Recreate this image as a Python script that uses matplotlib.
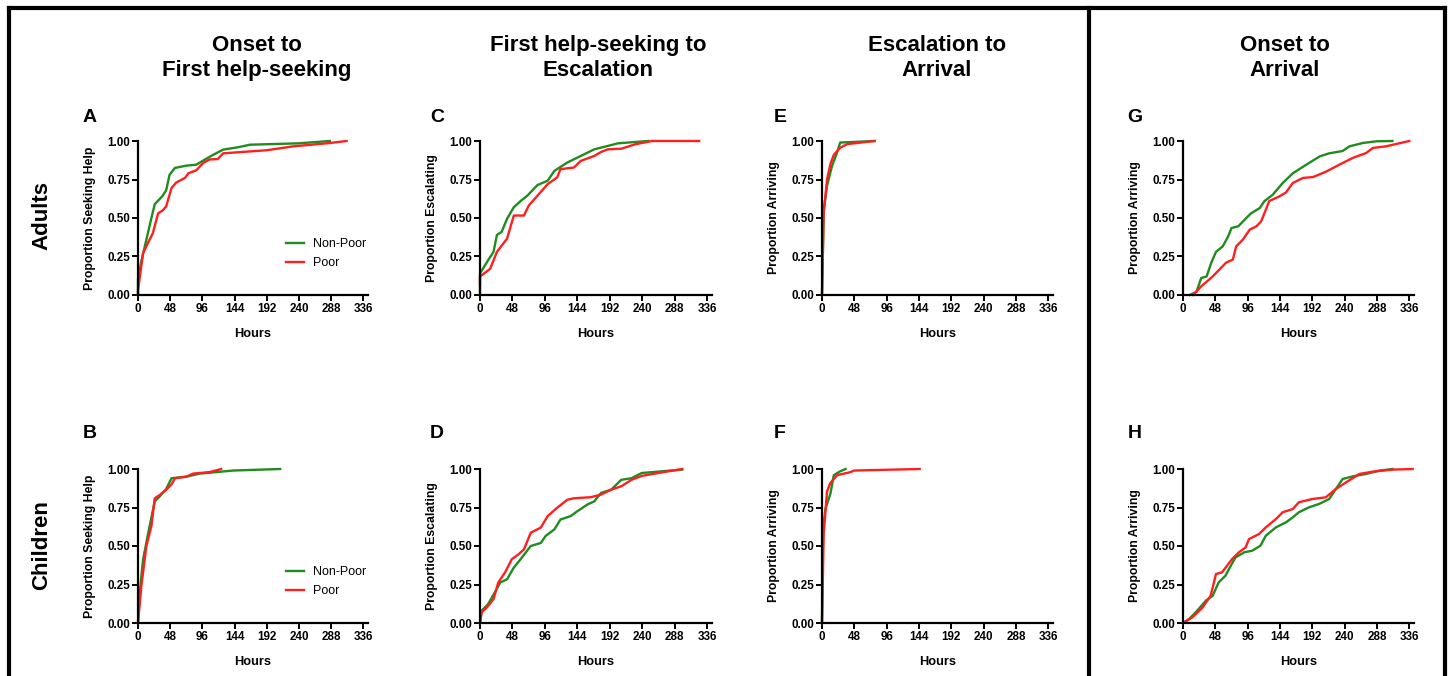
import matplotlib
matplotlib.use('Agg')
import matplotlib.pyplot as plt
from matplotlib.lines import Line2D

plt.rc('font', family='Liberation Sans')

# Data (hours, cumulative proportion)
# A: adults, onset to first help-seeking
a_np_h = [0, 0, 5, 12, 20, 25, 36, 42, 47, 55, 72, 87, 96, 112, 127, 150, 167, 200, 240, 286]
a_np_p = [0, 0.10, 0.22, 0.35, 0.50, 0.59, 0.64, 0.68, 0.78, 0.825, 0.84, 0.846, 0.87, 0.91, 0.944, 0.96, 0.976, 0.98, 0.985, 1.0]
a_p_h = [0, 0, 7.5, 15, 22, 30, 37, 42, 50, 57, 70, 75, 87, 97, 107, 119, 127, 192, 231, 286, 311]
a_p_p = [0, 0.03, 0.27, 0.34, 0.40, 0.53, 0.55, 0.575, 0.695, 0.73, 0.76, 0.79, 0.81, 0.857, 0.88, 0.883, 0.92, 0.94, 0.965, 0.987, 1.0]

# B: children, onset to first help-seeking
b_np_h = [0, 2.5, 7.5, 15, 25, 32, 42, 50, 72, 92, 142, 212]
b_np_p = [0, 0.195, 0.41, 0.58, 0.79, 0.82, 0.87, 0.94, 0.95, 0.97, 0.99, 1.0]
b_p_h = [0, 5, 12.5, 20, 25, 32, 42, 50, 55, 72, 82, 107, 124]
b_p_p = [0, 0.24, 0.50, 0.63, 0.81, 0.83, 0.865, 0.90, 0.94, 0.95, 0.97, 0.98, 1.0]

# C: adults, first help-seeking to escalation
c_np_h = [0, 0, 12, 20, 25, 32, 40, 50, 60, 70, 85, 100, 110, 129, 149, 169, 189, 204, 249]
c_np_p = [0, 0.14, 0.226, 0.28, 0.39, 0.41, 0.495, 0.57, 0.61, 0.645, 0.714, 0.742, 0.806, 0.86, 0.903, 0.946, 0.968, 0.985, 1.0]
c_p_h = [0, 0, 15, 25, 40, 50, 65, 72, 85, 100, 114, 119, 139, 149, 169, 179, 189, 209, 229, 254, 324]
c_p_p = [0.065, 0.12, 0.17, 0.28, 0.366, 0.516, 0.516, 0.58, 0.645, 0.72, 0.763, 0.817, 0.828, 0.871, 0.903, 0.929, 0.946, 0.95, 0.978, 1.0, 1.0]

# D: children, first help-seeking to escalation
d_np_h = [0, 2.5, 12, 22, 30, 40, 50, 60, 75, 90, 97, 110, 119, 134, 144, 159, 169, 179, 194, 209, 224, 239, 269, 299]
d_np_p = [0, 0.08, 0.123, 0.20, 0.263, 0.284, 0.36, 0.414, 0.50, 0.52, 0.565, 0.608, 0.672, 0.694, 0.726, 0.77, 0.79, 0.845, 0.866, 0.93, 0.94, 0.974, 0.985, 0.996]
d_p_h = [0, 2.5, 10, 20, 27, 37, 47, 57, 65, 75, 90, 100, 114, 129, 139, 164, 179, 194, 209, 224, 239, 269, 299]
d_p_p = [0, 0.07, 0.10, 0.155, 0.263, 0.328, 0.414, 0.446, 0.478, 0.586, 0.62, 0.694, 0.748, 0.80, 0.81, 0.817, 0.834, 0.866, 0.888, 0.93, 0.955, 0.978, 1.0]

# E: adults, escalation to arrival
e_np_h = [0, 2.5, 7.5, 15, 22, 27, 78]
e_np_p = [0, 0.55, 0.71, 0.84, 0.92, 0.99, 1.0]
e_p_h = [0, 2.5, 7.5, 12.5, 17.5, 27, 37.5, 78]
e_p_p = [0, 0.53, 0.75, 0.85, 0.91, 0.956, 0.98, 1.0]

# F: children, escalation to arrival
f_np_h = [0, 1.5, 5, 12.5, 17.5, 27, 35]
f_np_p = [0, 0.60, 0.74, 0.84, 0.96, 0.985, 1.0]
f_p_h = [0, 2.5, 7.5, 12.5, 22.5, 42.6, 47.6, 145]
f_p_p = [0, 0.58, 0.855, 0.91, 0.96, 0.98, 0.99, 1.0]

# G: adults, onset to arrival
g_np_h = [10, 20, 27, 35, 42, 49, 59, 67, 72, 82, 94, 101, 114, 121, 133, 148, 163, 183, 203, 217, 237, 247, 267, 287, 311]
g_np_p = [0, 0.02, 0.11, 0.12, 0.21, 0.28, 0.316, 0.38, 0.435, 0.446, 0.50, 0.53, 0.565, 0.61, 0.65, 0.727, 0.79, 0.846, 0.90, 0.92, 0.935, 0.965, 0.987, 0.998, 1.0]
g_p_h = [15, 27, 44, 64, 74, 79, 89, 99, 109, 116, 124, 128, 143, 153, 163, 178, 193, 212, 232, 252, 272, 282, 301, 336]
g_p_p = [0, 0.056, 0.12, 0.21, 0.23, 0.316, 0.36, 0.424, 0.446, 0.478, 0.565, 0.61, 0.64, 0.666, 0.727, 0.76, 0.766, 0.80, 0.846, 0.89, 0.922, 0.955, 0.965, 1.0]

# H: children, onset to arrival
h_np_h = [0, 9, 19, 34, 44, 53, 63, 71, 78, 91, 103, 115, 123, 138, 153, 163, 172, 187, 202, 217, 237, 252, 272, 291, 311]
h_np_p = [0, 0.026, 0.07, 0.145, 0.177, 0.264, 0.307, 0.372, 0.426, 0.459, 0.47, 0.502, 0.567, 0.621, 0.654, 0.686, 0.719, 0.751, 0.773, 0.805, 0.935, 0.952, 0.968, 0.989, 1.0]
h_p_h = [0, 14, 29, 41, 49, 58, 73, 83, 93, 98, 113, 123, 138, 148, 163, 172, 192, 212, 227, 242, 262, 282, 311, 341]
h_p_p = [0, 0.037, 0.10, 0.177, 0.318, 0.329, 0.416, 0.459, 0.491, 0.545, 0.578, 0.621, 0.675, 0.719, 0.74, 0.784, 0.805, 0.816, 0.87, 0.913, 0.968, 0.983, 0.996, 1.0]

panels = {
    'A': (a_np_h, a_np_p, a_p_h, a_p_p, 'Proportion Seeking Help'),
    'B': (b_np_h, b_np_p, b_p_h, b_p_p, 'Proportion Seeking Help'),
    'C': (c_np_h, c_np_p, c_p_h, c_p_p, 'Proportion Escalating'),
    'D': (d_np_h, d_np_p, d_p_h, d_p_p, 'Proportion Escalating'),
    'E': (e_np_h, e_np_p, e_p_h, e_p_p, 'Proportion Arriving'),
    'F': (f_np_h, f_np_p, f_p_h, f_p_p, 'Proportion Arriving'),
    'G': (g_np_h, g_np_p, g_p_h, g_p_p, 'Proportion Arriving'),
    'H': (h_np_h, h_np_p, h_p_h, h_p_p, 'Proportion Arriving'),
}
col_titles = ['Onset to\nFirst help-seeking', 'First help-seeking to\nEscalation',
              'Escalation to\nArrival', 'Onset to\nArrival']
row_titles = ['Adults', 'Children']
xticks = [0, 48, 96, 144, 192, 240, 288, 336]
yticks = [0.0, 0.25, 0.5, 0.75, 1.0]

green = '#1f8c1f'
red = '#ff1f1f'

W, H = 1450, 676
fig = plt.figure(figsize=(W / 100, H / 100), dpi=100)

# layout in pixels
col_left = [138, 480, 822, 1183]
col_width = [230, 232, 231, 231]
row_top = [141, 469]
ax_h = 154
title_x = [257, 598, 937, 1285]
letter_x = [90, 437, 780, 1135]
letter_y = [118, 433]
letters = [['A', 'B'], ['C', 'D'], ['E', 'F'], ['G', 'H']]

for ci in range(4):
    fig.text(title_x[ci] / W, 1 - 58 / H, col_titles[ci], ha='center', va='center',
             fontsize=16, fontweight='bold', linespacing=1.2)
    for ri in range(2):
        key = letters[ci][ri]
        np_h, np_p, p_h, p_p, ylab = panels[key]
        ax = fig.add_axes([col_left[ci] / W, 1 - (row_top[ri] + ax_h) / H,
                           col_width[ci] / W, ax_h / H])
        ax.plot(np_h, np_p, color=green, lw=1.7, clip_on=False, label='Non-Poor')
        ax.plot(p_h, p_p, color=red, lw=1.7, clip_on=False, label='Poor')
        ax.set_xlim(0, 343)
        ax.set_ylim(0, 1)
        ax.set_xticks(xticks)
        ax.set_yticks(yticks)
        ax.set_yticklabels(['0.00', '0.25', '0.50', '0.75', '1.00'])
        for s in ['top', 'right']:
            ax.spines[s].set_visible(False)
        for s in ['left', 'bottom']:
            ax.spines[s].set_linewidth(1.6)
        ax.tick_params(direction='out', length=4, width=1.4, labelsize=8.4, pad=1.5)
        for lab in ax.get_xticklabels() + ax.get_yticklabels():
            lab.set_fontweight('bold')
        ax.set_xlabel('Hours', fontsize=9.2, fontweight='bold')
        ax.xaxis.set_label_coords(0.5, -33 / ax_h)
        ax.set_ylabel(ylab, fontsize=8.8, fontweight='bold')
        ax.yaxis.set_label_coords(-42 / col_width[ci], 0.5)
        if ci == 0:
            ax.legend(loc='upper left', bbox_to_anchor=(0.643, 0.37), frameon=False,
                      fontsize=9, handlelength=1.45, handletextpad=0.7,
                      borderpad=0, borderaxespad=0, labelspacing=0.55)
        fig.text(letter_x[ci] / W, 1 - letter_y[ri] / H, key, ha='center', va='center',
                 fontsize=14, fontweight='bold')

fig.text(42 / W, 1 - 215 / H, row_titles[0], rotation=90, ha='center', va='center',
         fontsize=16, fontweight='bold')
fig.text(42 / W, 1 - 545 / H, row_titles[1], rotation=90, ha='center', va='center',
         fontsize=16, fontweight='bold')

# frame lines
lw = 3
fig.add_artist(Line2D([9 / W, 9 / W], [0, 1 - 8 / H], transform=fig.transFigure, color='black', lw=lw))
fig.add_artist(Line2D([9 / W, 1445 / W], [1 - 8 / H, 1 - 8 / H], transform=fig.transFigure, color='black', lw=lw))
fig.add_artist(Line2D([1445 / W, 1445 / W], [0, 1 - 8 / H], transform=fig.transFigure, color='black', lw=lw))
fig.add_artist(Line2D([1089 / W, 1089 / W], [0, 1 - 8 / H], transform=fig.transFigure, color='black', lw=lw))

fig.savefig('out.png', dpi=100)
